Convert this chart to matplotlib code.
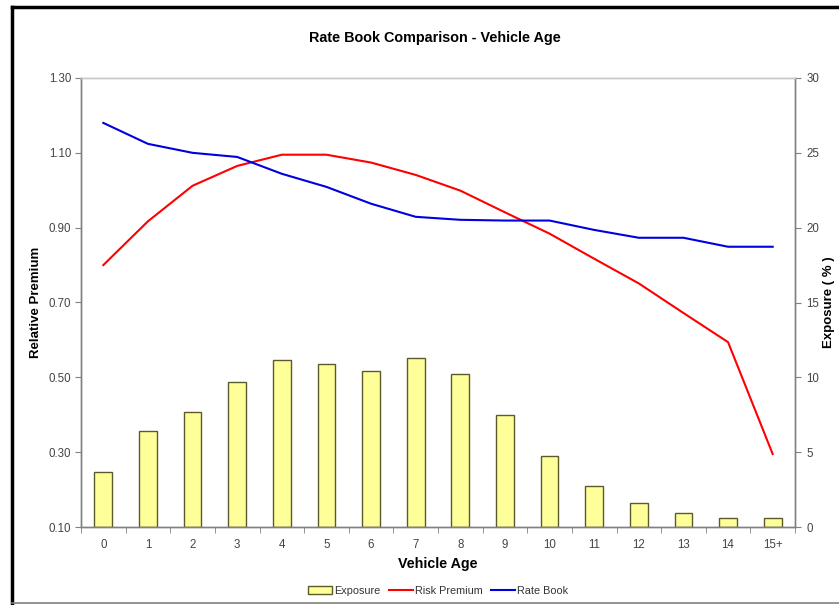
import matplotlib
matplotlib.use("Agg")
import matplotlib.pyplot as plt
from matplotlib.lines import Line2D
from matplotlib.patches import Patch
import numpy as np

plt.rcParams['font.family'] = ['Liberation Sans', 'DejaVu Sans']

categories = ["0", "1", "2", "3", "4", "5", "6", "7", "8", "9", "10", "11", "12", "13", "14", "15+"]
exposure = [3.7, 6.4, 7.7, 9.7, 11.15, 10.9, 10.4, 11.3, 10.2, 7.47, 4.73, 2.75, 1.62, 0.91, 0.58, 0.62]
risk_premium = [0.80, 0.917, 1.012, 1.065, 1.095, 1.095, 1.074, 1.041, 0.999, 0.941, 0.884, 0.817, 0.751, 0.672, 0.594, 0.295]
rate_book = [1.18, 1.124, 1.10, 1.089, 1.044, 1.009, 0.964, 0.929, 0.921, 0.919, 0.919, 0.894, 0.873, 0.873, 0.849, 0.849]
left_ticks = [0.10, 0.30, 0.50, 0.70, 0.90, 1.10, 1.30]
right_ticks = [0, 5, 10, 15, 20, 25, 30]

W, H = 839, 605
fig = plt.figure(figsize=(W / 100, H / 100), dpi=100)
fig.patch.set_facecolor('white')

ax = fig.add_axes([81 / W, 1 - 527 / H, (795 - 81) / W, (527 - 78) / H])
ax2 = ax.twinx()
ax.set_zorder(ax2.get_zorder() + 1)
ax.patch.set_visible(False)

x = np.arange(len(categories))
ax2.bar(x, exposure, width=0.4, color='#FFFF99', edgecolor='#5a5a2a', linewidth=1.0, zorder=2)
ax.plot(x, risk_premium, color='#FF0000', lw=1.5, zorder=3)
ax.plot(x, rate_book, color='#0000E0', lw=1.5, zorder=3)

ax.set_xlim(-0.5, len(categories) - 0.5)
ax.set_ylim(0.10, 1.30)
ax2.set_ylim(0, 30)
ax.set_yticks(left_ticks)
ax.set_yticklabels([f"{v:.2f}" for v in left_ticks])
ax2.set_yticks(right_ticks)
ax2.set_yticklabels([str(v) for v in right_ticks])

ax.set_xticks(x)
ax.set_xticklabels(categories)
ax.set_xticks(np.arange(-0.5, len(categories), 1.0), minor=True)
ax.tick_params(axis='x', which='major', length=0, pad=9, labelsize=8.3, labelcolor='#444444')
ax.tick_params(axis='x', which='minor', length=4, direction='out', color='#808080')
ax.tick_params(axis='y', length=4, direction='out', color='#808080', labelsize=8.3, labelcolor='#444444', pad=3)
ax2.tick_params(axis='y', length=4, direction='out', color='#808080', labelsize=8.3, labelcolor='#444444', pad=4)

for a in (ax, ax2):
    for s in ('left', 'right', 'bottom'):
        a.spines[s].set_color('#808080')
        a.spines[s].set_linewidth(1.0)
    a.spines['top'].set_color('#c8c8c8')
    a.spines['top'].set_linewidth(1.0)

fig.text(438 / W, 1 - 564 / H, "Vehicle Age", ha='center', va='center', fontsize=10.3, fontweight='bold')
fig.text(36 / W, 1 - 302 / H, "Relative Premium", ha='center', va='center', rotation=90,
         fontsize=9.5, fontweight='bold')
fig.text(829 / W, 1 - 302 / H, "Exposure ( % )", ha='center', va='center', rotation=90,
         fontsize=9.5, fontweight='bold')

fig.text(435 / W, 1 - 38 / H, "Rate Book Comparison - Vehicle Age", ha='center', va='center',
         fontsize=10.4, fontweight='bold')

handles = [Patch(facecolor='#FFFF99', edgecolor='#5a5a2a', linewidth=1.0),
           Line2D([0], [0], color='#FF0000', lw=1.5),
           Line2D([0], [0], color='#0000E0', lw=1.5)]
fig.legend(handles, ["Exposure", "Risk Premium", "Rate Book"], loc='center',
           bbox_to_anchor=(438 / W, 1 - 591 / H), ncol=3, frameon=False, fontsize=7.8,
           handlelength=2.2, handleheight=0.8, columnspacing=0.8, handletextpad=0.2,
           labelcolor='#333333')

# outer border
fig.add_artist(Line2D([12 / W, 12 / W], [1 - 7 / H, 1 - 603 / H], transform=fig.transFigure, color='black', lw=2.5))
fig.add_artist(Line2D([12 / W, 1.0], [1 - 7 / H, 1 - 7 / H], transform=fig.transFigure, color='black', lw=2.5))
fig.add_artist(Line2D([12 / W, 1.0], [1 - 603 / H, 1 - 603 / H], transform=fig.transFigure, color='#808080', lw=1.2))

fig.savefig("out.png", dpi=100, facecolor='white')
